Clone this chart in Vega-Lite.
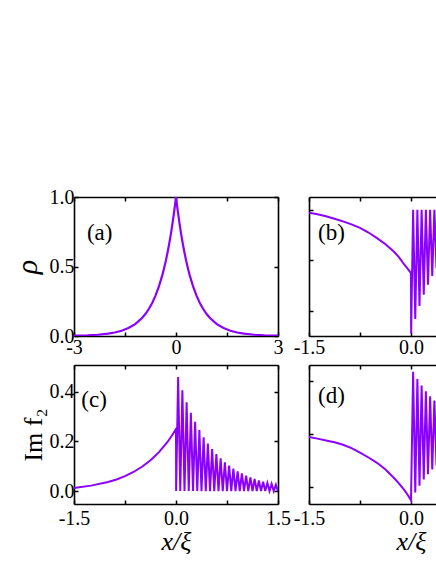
{
"$schema":"https://vega.github.io/schema/vega-lite/v6.json",
"padding":{"left":12,"top":187,"right":0,"bottom":0},
"columns":2,
"spacing":{"row":29,"column":31},
"bounds":"flush",
"config":{
 "font":"Liberation Serif",
 "view":{"stroke":null},
 "axis":{"grid":false,"domainColor":"black","domainWidth":1.6,"tickColor":"black","tickWidth":1.5,"tickSize":-4,"labelFont":"Liberation Serif","labelFontSize":20,"labelColor":"black","titleFont":"Liberation Serif","titleFontWeight":"normal","titleColor":"black","titleFontSize":26,"labelFlush":false,"labelOverlap":false}
},
"datasets":{
"a":[{"x":-3,"y":0.002},{"x":-2.6,"y":0.005},{"x":-2.3,"y":0.009},{"x":-2,"y":0.017},{"x":-1.8,"y":0.025},{"x":-1.6,"y":0.038},{"x":-1.4,"y":0.057},{"x":-1.2,"y":0.085},{"x":-1,"y":0.129},{"x":-0.9,"y":0.158},{"x":-0.8,"y":0.194},{"x":-0.7,"y":0.238},{"x":-0.6,"y":0.292},{"x":-0.5,"y":0.359},{"x":-0.4,"y":0.44},{"x":-0.35,"y":0.488},{"x":-0.3,"y":0.54},{"x":-0.25,"y":0.599},{"x":-0.2,"y":0.664},{"x":-0.15,"y":0.735},{"x":-0.1,"y":0.815},{"x":-0.05,"y":0.903},{"x":-0.025,"y":0.95},{"x":0,"y":1},{"x":0.025,"y":0.95},{"x":0.05,"y":0.903},{"x":0.1,"y":0.815},{"x":0.15,"y":0.735},{"x":0.2,"y":0.664},{"x":0.25,"y":0.599},{"x":0.3,"y":0.54},{"x":0.35,"y":0.488},{"x":0.4,"y":0.44},{"x":0.5,"y":0.359},{"x":0.6,"y":0.292},{"x":0.7,"y":0.238},{"x":0.8,"y":0.194},{"x":0.9,"y":0.158},{"x":1,"y":0.129},{"x":1.2,"y":0.085},{"x":1.4,"y":0.057},{"x":1.6,"y":0.038},{"x":1.8,"y":0.025},{"x":2,"y":0.017},{"x":2.3,"y":0.009},{"x":2.6,"y":0.005},{"x":3,"y":0.002}],
"b":[{"x":-1.5,"y":0.97},{"x":-1.375,"y":0.955},{"x":-1.25,"y":0.935},{"x":-1.125,"y":0.91},{"x":-1,"y":0.885},{"x":-0.875,"y":0.855},{"x":-0.75,"y":0.82},{"x":-0.625,"y":0.775},{"x":-0.5,"y":0.72},{"x":-0.375,"y":0.66},{"x":-0.25,"y":0.585},{"x":-0.175,"y":0.53},{"x":-0.1,"y":0.46},{"x":-0.05,"y":0.42},{"x":0,"y":0.375},
{"x":0.002,"y":-0.22},{"x":0.03125,"y":1},{"x":0.0625,"y":-0.077},{"x":0.09375,"y":1},{"x":0.125,"y":0.05},{"x":0.15625,"y":1},{"x":0.1875,"y":0.161},{"x":0.21875,"y":1},{"x":0.25,"y":0.26},{"x":0.28125,"y":1},{"x":0.3125,"y":0.347},{"x":0.34375,"y":1},{"x":0.375,"y":0.424},{"x":0.40625,"y":1},{"x":0.4375,"y":0.491},{"x":0.46875,"y":1},{"x":0.5,"y":0.551},{"x":0.53125,"y":1},{"x":0.5625,"y":0.604},{"x":0.59375,"y":1},{"x":0.625,"y":0.65},{"x":0.65625,"y":1},{"x":0.6875,"y":0.692},{"x":0.71875,"y":1},{"x":0.75,"y":0.728},{"x":0.78125,"y":1},{"x":0.8125,"y":0.76},{"x":0.84375,"y":1},{"x":0.875,"y":0.788},{"x":0.90625,"y":1},{"x":0.9375,"y":0.813},{"x":0.96875,"y":1},{"x":1,"y":0.835},{"x":1.03125,"y":1},{"x":1.0625,"y":0.854},{"x":1.09375,"y":1},{"x":1.125,"y":0.871},{"x":1.15625,"y":1},{"x":1.1875,"y":0.887},{"x":1.21875,"y":1},{"x":1.25,"y":0.9},{"x":1.28125,"y":1},{"x":1.3125,"y":0.912},{"x":1.34375,"y":1},{"x":1.375,"y":0.922},{"x":1.40625,"y":1},{"x":1.4375,"y":0.931},{"x":1.46875,"y":1},{"x":1.5,"y":0.939}],
"c":[{"x":-1.5,"y":0.012},{"x":-1.25,"y":0.022},{"x":-1,"y":0.037},{"x":-0.875,"y":0.047},{"x":-0.75,"y":0.06},{"x":-0.625,"y":0.077},{"x":-0.5,"y":0.098},{"x":-0.375,"y":0.124},{"x":-0.25,"y":0.157},{"x":-0.125,"y":0.198},{"x":-0.05,"y":0.228},{"x":0,"y":0.25},
{"x":0.002,"y":0},{"x":0.03125,"y":0.46},{"x":0.0625,"y":0},{"x":0.09375,"y":0.406},{"x":0.125,"y":0},{"x":0.15625,"y":0.358},{"x":0.1875,"y":0},{"x":0.21875,"y":0.316},{"x":0.25,"y":0},{"x":0.28125,"y":0.279},{"x":0.3125,"y":0},{"x":0.34375,"y":0.246},{"x":0.375,"y":0},{"x":0.40625,"y":0.217},{"x":0.4375,"y":0},{"x":0.46875,"y":0.192},{"x":0.5,"y":0},{"x":0.53125,"y":0.169},{"x":0.5625,"y":0},{"x":0.59375,"y":0.149},{"x":0.625,"y":0},{"x":0.65625,"y":0.132},{"x":0.6875,"y":0},{"x":0.71875,"y":0.116},{"x":0.75,"y":0},{"x":0.78125,"y":0.103},{"x":0.8125,"y":0},{"x":0.84375,"y":0.091},{"x":0.875,"y":0},{"x":0.90625,"y":0.08},{"x":0.9375,"y":0},{"x":0.96875,"y":0.071},{"x":1,"y":0},{"x":1.03125,"y":0.062},{"x":1.0625,"y":0},{"x":1.09375,"y":0.055},{"x":1.125,"y":0},{"x":1.15625,"y":0.049},{"x":1.1875,"y":0},{"x":1.21875,"y":0.043},{"x":1.25,"y":0},{"x":1.28125,"y":0.038},{"x":1.3125,"y":0},{"x":1.34375,"y":0.033},{"x":1.375,"y":0},{"x":1.40625,"y":0.029},{"x":1.4375,"y":0},{"x":1.46875,"y":0.026},{"x":1.5,"y":0}],
"d":[{"x":-1.5,"y":-0.011},{"x":-1.375,"y":-0.017},{"x":-1.25,"y":-0.024},{"x":-1.125,"y":-0.031},{"x":-1,"y":-0.04},{"x":-0.875,"y":-0.053},{"x":-0.75,"y":-0.07},{"x":-0.625,"y":-0.088},{"x":-0.5,"y":-0.108},{"x":-0.375,"y":-0.133},{"x":-0.25,"y":-0.165},{"x":-0.175,"y":-0.186},{"x":-0.1,"y":-0.21},{"x":-0.05,"y":-0.228},{"x":0,"y":-0.249},
{"x":0.03125,"y":0.235},{"x":0.0625,"y":-0.22},{"x":0.09375,"y":0.207},{"x":0.125,"y":-0.194},{"x":0.15625,"y":0.183},{"x":0.1875,"y":-0.171},{"x":0.21875,"y":0.161},{"x":0.25,"y":-0.151},{"x":0.28125,"y":0.142},{"x":0.3125,"y":-0.133},{"x":0.34375,"y":0.126},{"x":0.375,"y":-0.118},{"x":0.40625,"y":0.111},{"x":0.4375,"y":-0.104},{"x":0.46875,"y":0.098},{"x":0.5,"y":-0.092},{"x":0.53125,"y":0.086},{"x":0.5625,"y":-0.081},{"x":0.59375,"y":0.076},{"x":0.625,"y":-0.071},{"x":0.65625,"y":0.067},{"x":0.6875,"y":-0.063},{"x":0.71875,"y":0.059},{"x":0.75,"y":-0.056},{"x":0.78125,"y":0.052},{"x":0.8125,"y":-0.049},{"x":0.84375,"y":0.046},{"x":0.875,"y":-0.043},{"x":0.90625,"y":0.041},{"x":0.9375,"y":-0.038},{"x":0.96875,"y":0.036},{"x":1,"y":-0.034},{"x":1.03125,"y":0.032},{"x":1.0625,"y":-0.03},{"x":1.09375,"y":0.028},{"x":1.125,"y":-0.026},{"x":1.15625,"y":0.025},{"x":1.1875,"y":-0.023},{"x":1.21875,"y":0.022},{"x":1.25,"y":-0.02},{"x":1.28125,"y":0.019},{"x":1.3125,"y":-0.018},{"x":1.34375,"y":0.017},{"x":1.375,"y":-0.016},{"x":1.40625,"y":0.015},{"x":1.4375,"y":-0.014},{"x":1.46875,"y":0.013},{"x":1.5,"y":-0.012}],
"one":[{"n":1}]
},
"concat":[
{
 "width":204,"height":139,
 "layer":[
  {"data":{"name":"a"},"mark":{"type":"line","color":"#8c00ff","strokeWidth":2.2,"clip":true},
   "encoding":{
    "x":{"field":"x","type":"quantitative","scale":{"domain":[-3,3],"nice":false},"axis":{"orient":"bottom","values":[-3,-1.5,0,1.5,3],"labelExpr":"datum.value==-3?'-3':datum.value==0?'0':datum.value==3?'3':''","title":null,"labelPadding":5}},
    "y":{"field":"y","type":"quantitative","scale":{"domain":[0,1],"nice":false},"axis":{"orient":"left","values":[0,0.5,1],"labelExpr":"format(datum.value,'.1f')","title":"ρ","titleFontStyle":"italic","titleFontSize":30,"labelPadding":4,"titlePadding":7}}
   }},
  {"data":{"name":"a"},"mark":{"type":"line","opacity":0},
   "encoding":{
    "x":{"field":"x","type":"quantitative","axis":{"orient":"top","values":[-3,-1.5,0,1.5,3],"labels":false,"title":null}},
    "y":{"field":"y","type":"quantitative","axis":{"orient":"right","values":[0,0.5,1],"labels":false,"title":null}}
   }},
  {"data":{"name":"one"},"mark":{"type":"text","align":"left","baseline":"alphabetic","fontSize":23,"font":"Liberation Serif","fill":"black"},
   "encoding":{"x":{"datum":-2.62,"type":"quantitative","axis":null},"y":{"datum":0.69,"type":"quantitative","axis":null},"text":{"value":"(a)"}}}
 ],
 "resolve":{"axis":{"x":"independent","y":"independent"}}
},
{
 "width":204,"height":139,
 "layer":[
  {"data":{"name":"b"},"mark":{"type":"line","color":"#8c00ff","strokeWidth":2,"clip":true},
   "encoding":{
    "x":{"field":"x","type":"quantitative","scale":{"domain":[-1.5,1.5],"nice":false},"axis":{"orient":"bottom","values":[-1.5,-0.75,0,0.75,1.5],"labelExpr":"datum.value==-1.5?'-1.5':datum.value==0?'0.0':datum.value==1.5?'1.5':''","title":null,"labelPadding":5}},
    "y":{"field":"y","type":"quantitative","scale":{"domain":[-0.245,1.125],"nice":false},"axis":{"orient":"left","values":[0,0.5,1],"labels":false,"title":null}}
   }},
  {"data":{"name":"b"},"mark":{"type":"line","opacity":0},
   "encoding":{
    "x":{"field":"x","type":"quantitative","axis":{"orient":"top","values":[-1.5,-0.75,0,0.75,1.5],"labels":false,"title":null}},
    "y":{"field":"y","type":"quantitative","axis":{"orient":"right","values":[0,0.5,1],"labels":false,"title":null}}
   }},
  {"data":{"name":"one"},"mark":{"type":"text","align":"left","baseline":"alphabetic","fontSize":23,"font":"Liberation Serif","fill":"black"},
   "encoding":{"x":{"datum":-1.368,"type":"quantitative","axis":null},"y":{"datum":0.706,"type":"quantitative","axis":null},"text":{"value":"(b)"}}}
 ],
 "resolve":{"axis":{"x":"independent","y":"independent"}}
},
{
 "width":204,"height":139,
 "layer":[
  {"data":{"name":"c"},"mark":{"type":"line","color":"#8c00ff","strokeWidth":2,"clip":true},
   "encoding":{
    "x":{"field":"x","type":"quantitative","scale":{"domain":[-1.5,1.5],"nice":false},"axis":{"orient":"bottom","values":[-1.5,-0.75,0,0.75,1.5],"labelExpr":"datum.value==-1.5?'-1.5':datum.value==0?'0.0':datum.value==1.5?'1.5':''","title":"x/ξ","titleFontStyle":"italic","labelPadding":8,"titlePadding":0}},
    "y":{"field":"y","type":"quantitative","scale":{"domain":[-0.052,0.508],"nice":false},"axis":{"orient":"left","values":[0,0.2,0.4],"labelExpr":"format(datum.value,'.1f')","title":"Im f₂","labelPadding":4,"titlePadding":3}}
   }},
  {"data":{"name":"c"},"mark":{"type":"line","opacity":0},
   "encoding":{
    "x":{"field":"x","type":"quantitative","axis":{"orient":"top","values":[-1.5,-0.75,0,0.75,1.5],"labels":false,"title":null}},
    "y":{"field":"y","type":"quantitative","axis":{"orient":"right","values":[0,0.2,0.4],"labels":false,"title":null}}
   }},
  {"data":{"name":"one"},"mark":{"type":"text","align":"left","baseline":"alphabetic","fontSize":23,"font":"Liberation Serif","fill":"black"},
   "encoding":{"x":{"datum":-1.393,"type":"quantitative","axis":null},"y":{"datum":0.34,"type":"quantitative","axis":null},"text":{"value":"(c)"}}}
 ],
 "resolve":{"axis":{"x":"independent","y":"independent"}}
},
{
 "width":204,"height":139,
 "layer":[
  {"data":{"name":"d"},"mark":{"type":"line","color":"#8c00ff","strokeWidth":2,"clip":true},
   "encoding":{
    "x":{"field":"x","type":"quantitative","scale":{"domain":[-1.5,1.5],"nice":false},"axis":{"orient":"bottom","values":[-1.5,-0.75,0,0.75,1.5],"labelExpr":"datum.value==-1.5?'-1.5':datum.value==0?'0.0':datum.value==1.5?'1.5':''","title":"x/ξ","titleFontStyle":"italic","labelPadding":8,"titlePadding":0}},
    "y":{"field":"y","type":"quantitative","scale":{"domain":[-0.263,0.26],"nice":false},"axis":{"orient":"left","values":[-0.2,0,0.2],"labels":false,"title":null}}
   }},
  {"data":{"name":"d"},"mark":{"type":"line","opacity":0},
   "encoding":{
    "x":{"field":"x","type":"quantitative","axis":{"orient":"top","values":[-1.5,-0.75,0,0.75,1.5],"labels":false,"title":null}},
    "y":{"field":"y","type":"quantitative","axis":{"orient":"right","values":[-0.2,0,0.2],"labels":false,"title":null}}
   }},
  {"data":{"name":"one"},"mark":{"type":"text","align":"left","baseline":"alphabetic","fontSize":23,"font":"Liberation Serif","fill":"black"},
   "encoding":{"x":{"datum":-1.368,"type":"quantitative","axis":null},"y":{"datum":0.116,"type":"quantitative","axis":null},"text":{"value":"(d)"}}}
 ],
 "resolve":{"axis":{"x":"independent","y":"independent"}}
}
]
}
